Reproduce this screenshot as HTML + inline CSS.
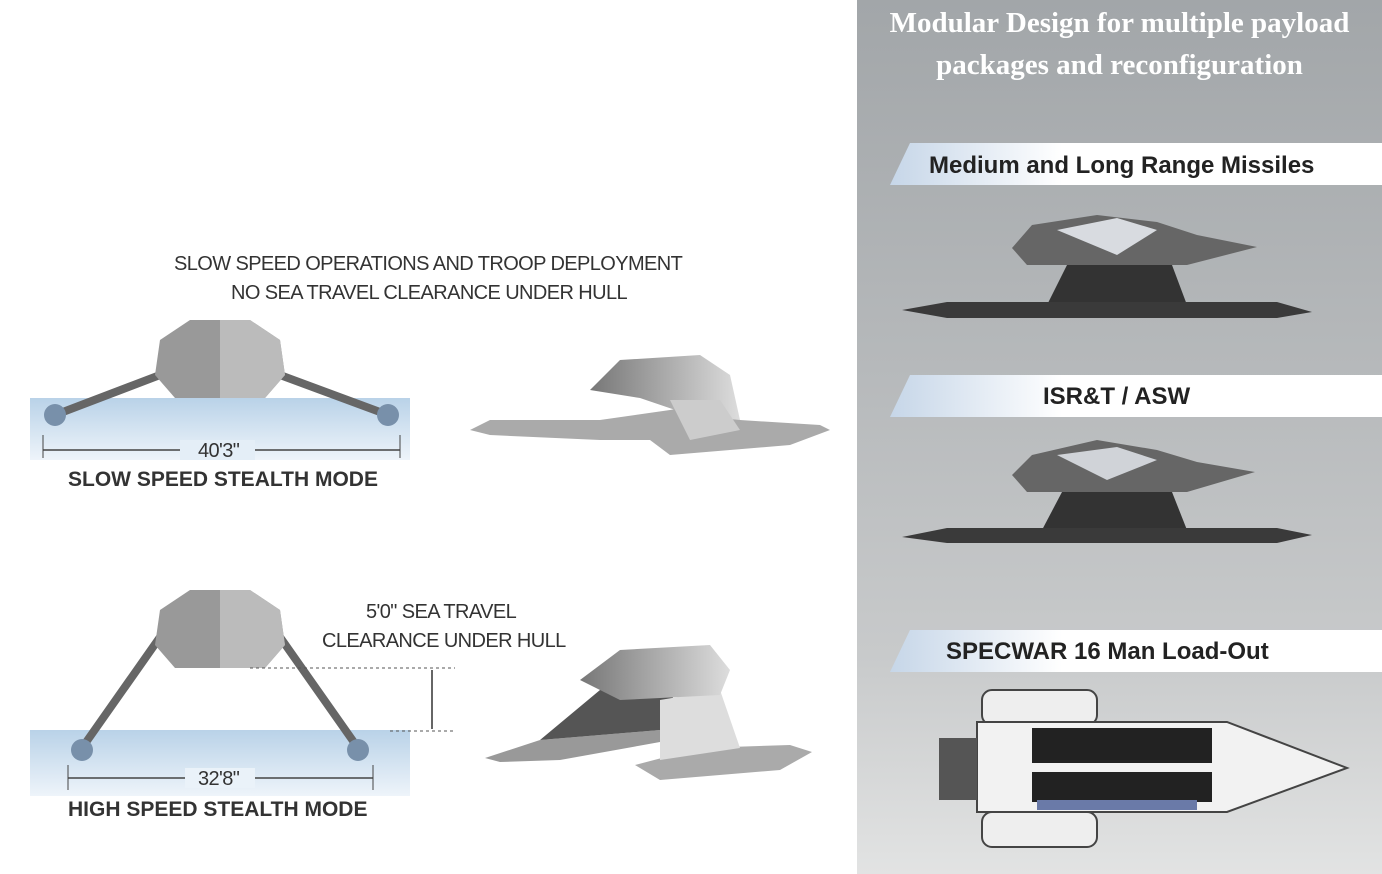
<!DOCTYPE html>
<html><head><style>
html,body{margin:0;padding:0}
body{width:1382px;height:874px;position:relative;overflow:hidden;background:#fff;font-family:"Liberation Sans",sans-serif}
.t{position:absolute;white-space:nowrap}
.cap{font-size:20px;color:#333;letter-spacing:-0.6px;transform-origin:left}
.mode{font-size:21px;font-weight:bold;color:#333}
#rp{position:absolute;left:857px;top:0;width:525px;height:874px;background:linear-gradient(#a2a6a9,#b5b8ba 40%,#c8cacb 75%,#e2e3e3)}
.title{position:absolute;left:0;width:525px;text-align:center;font-family:"Liberation Serif",serif;font-weight:bold;font-size:29px;color:#fff;line-height:42px;top:2px}
.ban{position:absolute;left:33px;width:492px;height:42px;background:linear-gradient(90deg,#c6d6e8,#fff 35%,#fff);clip-path:polygon(20px 0,100% 0,100% 100%,0 100%)}
.bt{position:absolute;font-weight:bold;font-size:24px;color:#222;white-space:nowrap}
</style></head><body>
<svg width="857" height="874" style="position:absolute;left:0;top:0">
<defs>
<linearGradient id="w" x1="0" y1="0" x2="0" y2="1"><stop offset="0" stop-color="#b9d2e8"/><stop offset="1" stop-color="#eef4fa"/></linearGradient>
<linearGradient id="h" x1="0" y1="0" x2="1" y2="0"><stop offset="0" stop-color="#777"/><stop offset=".5" stop-color="#aaa"/><stop offset="1" stop-color="#ddd"/></linearGradient>
</defs>
<rect x="30" y="398" width="380" height="62" fill="url(#w)"/>
<rect x="30" y="730" width="380" height="66" fill="url(#w)"/>
<polyline points="55,415 160,375 280,375 388,415" fill="none" stroke="#666" stroke-width="8"/>
<polygon points="160,340 190,320 250,320 280,340 285,375 265,398 175,398 155,375" fill="#999"/>
<polygon points="220,320 250,320 280,340 285,375 265,398 220,398" fill="#bbb"/>
<circle cx="55" cy="415" r="11" fill="#7890aa"/><circle cx="388" cy="415" r="11" fill="#7890aa"/>
<line x1="43" y1="450" x2="400" y2="450" stroke="#444" stroke-width="1.5"/>
<rect x="180" y="440" width="75" height="20" fill="#e4eef7"/>
<line x1="43" y1="435" x2="43" y2="458" stroke="#444"/><line x1="400" y1="435" x2="400" y2="458" stroke="#444"/>
<polyline points="82,748 165,630 275,630 358,748" fill="none" stroke="#666" stroke-width="8"/>
<polygon points="160,610 190,590 250,590 280,610 285,645 265,668 175,668 155,645" fill="#999"/>
<polygon points="220,590 250,590 280,610 285,645 265,668 220,668" fill="#bbb"/>
<circle cx="82" cy="750" r="11" fill="#7890aa"/><circle cx="358" cy="750" r="11" fill="#7890aa"/>
<line x1="68" y1="778" x2="373" y2="778" stroke="#444" stroke-width="1.5"/>
<rect x="185" y="768" width="70" height="20" fill="#eaf2f9"/>
<line x1="68" y1="765" x2="68" y2="790" stroke="#444"/><line x1="373" y1="765" x2="373" y2="790" stroke="#444"/>
<line x1="250" y1="668" x2="455" y2="668" stroke="#555" stroke-dasharray="3,3"/>
<line x1="390" y1="731" x2="455" y2="731" stroke="#555" stroke-dasharray="3,3"/>
<line x1="432" y1="670" x2="432" y2="729" stroke="#333" stroke-width="1.5"/>
<polygon points="470,430 490,420 600,420 670,410 720,400 740,420 820,425 830,430 790,445 670,455 650,440 600,440 490,435" fill="#aaa"/>
<polygon points="590,390 620,360 700,355 730,375 740,420 690,415 640,398" fill="url(#h)"/>
<polygon points="670,400 720,400 740,430 690,440" fill="#ccc"/>
<polygon points="485,758 540,740 660,730 660,742 560,760 500,762" fill="#999"/>
<polygon points="635,765 700,748 790,745 812,752 780,770 660,780" fill="#aaa"/>
<polygon points="540,740 600,690 680,680 660,730" fill="#555"/>
<polygon points="660,700 720,690 740,748 660,760" fill="#ddd"/>
<polygon points="580,680 620,650 710,645 730,670 720,695 620,700" fill="url(#h)"/>
</svg>
<div class="t cap" style="left:174px;top:253px">SLOW SPEED OPERATIONS AND TROOP DEPLOYMENT</div>
<div class="t cap" style="left:231px;top:282px">NO SEA TRAVEL CLEARANCE UNDER HULL</div>
<div class="t cap" style="left:198px;top:440px">40'3"</div>
<div class="t mode" style="left:68px;top:468px">SLOW SPEED STEALTH MODE</div>
<div class="t cap" style="left:366px;top:601px">5'0" SEA TRAVEL</div>
<div class="t cap" style="left:322px;top:630px">CLEARANCE UNDER HULL</div>
<div class="t cap" style="left:198px;top:768px">32'8"</div>
<div class="t mode" style="left:68px;top:798px">HIGH SPEED STEALTH MODE</div>
<div id="rp">
<div class="title">Modular Design for multiple payload<br>packages and reconfiguration</div>
<div class="ban" style="top:143px"></div><div class="bt" style="left:72px;top:152px">Medium and Long Range Missiles</div>
<div class="ban" style="top:375px"></div><div class="bt" style="left:186px;top:383px">ISR&amp;T / ASW</div>
<div class="ban" style="top:630px"></div><div class="bt" style="left:89px;top:638px">SPECWAR 16 Man Load-Out</div>
<svg width="525" height="874" style="position:absolute;left:0;top:0">
<polygon points="155,248 175,225 240,215 300,222 340,235 400,247 330,265 170,265" fill="#666"/>
<polygon points="200,230 260,218 300,230 260,255" fill="#d8dbe0"/>
<polygon points="210,265 315,265 330,305 190,305" fill="#333"/>
<polygon points="45,310 90,302 420,302 455,312 420,318 90,318" fill="#3a3a3a"/>
<polygon points="155,475 175,455 240,440 300,450 340,462 398,472 330,492 170,492" fill="#666"/>
<polygon points="200,455 260,447 300,460 250,480" fill="#d0d3d8"/>
<polygon points="205,492 315,492 330,530 185,530" fill="#333"/>
<polygon points="45,537 90,528 420,528 455,535 420,543 90,543" fill="#3a3a3a"/>
<rect x="125" y="690" width="115" height="35" rx="10" fill="#eee" stroke="#444" stroke-width="2"/>
<rect x="125" y="812" width="115" height="35" rx="10" fill="#eee" stroke="#444" stroke-width="2"/>
<polygon points="120,722 370,722 490,768 370,812 120,812" fill="#f2f2f2" stroke="#444" stroke-width="2"/>
<rect x="82" y="738" width="38" height="62" fill="#555"/>
<rect x="175" y="728" width="180" height="35" fill="#222"/>
<rect x="175" y="772" width="180" height="30" fill="#222"/>
<rect x="180" y="800" width="160" height="10" fill="#6a7aa8"/>
</svg>
</div>
</body></html>
